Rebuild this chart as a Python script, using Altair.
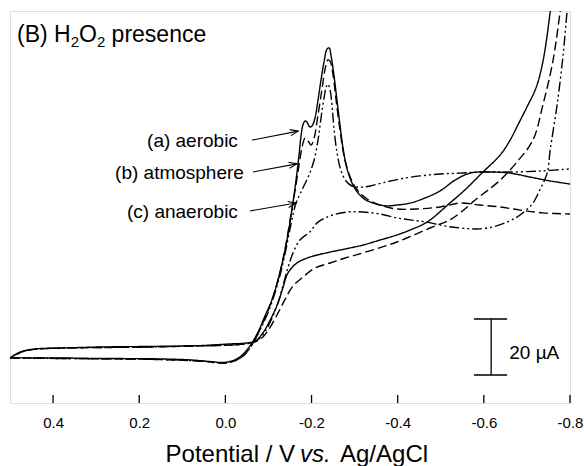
import altair as alt
import pandas as pd

FONT = "Liberation Sans"

# ---- curve (a) aerobic : solid ----
E_a_fwd = [0.500, 0.454, 0.384, 0.291, 0.175, 0.082, 0.036, 0.001, -0.022, -0.039, -0.057,
           -0.076, -0.092, -0.108, -0.127, -0.143, -0.155, -0.164, -0.171, -0.175, -0.180,
           -0.185, -0.189, -0.196, -0.201, -0.208, -0.215, -0.222, -0.229, -0.236, -0.241,
           -0.245, -0.252, -0.259, -0.266, -0.273, -0.282, -0.294, -0.308, -0.326, -0.350,
           -0.373, -0.398, -0.429, -0.463, -0.498, -0.533, -0.568, -0.614, -0.661, -0.707,
           -0.754, -0.800]
I_a_fwd = [16.1, 16.1, 16.1, 15.9, 15.8, 15.4, 14.8, 14.5, 15.4, 17.1, 20.4,
           25.4, 31.1, 36.8, 46.8, 58.2, 69.6, 79.6, 88.6, 94.6, 99.3,
           100.7, 100.4, 98.6, 98.9, 101.8, 108.2, 115.4, 121.8, 126.4, 126.8,
           124.3, 117.1, 108.2, 99.3, 91.1, 83.9, 78.6, 75.0, 72.5, 71.1,
           70.4, 70.7, 71.4, 73.2, 75.7, 79.6, 82.1, 82.5, 82.1, 80.7,
           79.3, 78.2]
E_a_rev = [-0.760, -0.754, -0.737, -0.721, -0.700, -0.679, -0.661, -0.638, -0.598, -0.556,
           -0.521, -0.468, -0.429, -0.398, -0.359, -0.319, -0.278, -0.243, -0.196, -0.166,
           -0.145, -0.134, -0.122, -0.104, -0.085, -0.069, -0.046, -0.011, 0.059, 0.175,
           0.291, 0.384, 0.442, 0.477, 0.500]
I_a_rev = [147.5, 139.6, 121.8, 112.5, 105.7, 99.3, 93.9, 88.6, 82.5, 76.1,
           71.4, 64.6, 61.8, 60.0, 58.2, 56.4, 55.0, 53.9, 52.1, 50.0,
           46.4, 41.4, 35.7, 29.6, 24.6, 22.1, 21.4, 21.1, 20.5, 20.2,
           20.0, 19.6, 19.3, 18.2, 16.1]

# ---- curve (b) atmosphere : dashed ----
E_b_fwd = [0.500, 0.384, 0.175, 0.059, 0.001, -0.027, -0.046, -0.064, -0.085, -0.104,
           -0.122, -0.138, -0.152, -0.162, -0.171, -0.178, -0.185, -0.192, -0.199, -0.206,
           -0.215, -0.224, -0.231, -0.238, -0.243, -0.250, -0.257, -0.266, -0.275, -0.287,
           -0.303, -0.326, -0.359, -0.398, -0.445, -0.498, -0.545, -0.591, -0.638, -0.684,
           -0.737, -0.800]
I_b_fwd = [16.1, 15.9, 15.6, 15.0, 14.3, 15.4, 17.5, 21.4, 27.9, 35.0,
           43.9, 54.6, 67.1, 76.1, 85.0, 91.4, 94.6, 93.6, 92.1, 94.6,
           102.9, 111.8, 118.9, 122.5, 122.1, 117.1, 108.2, 97.5, 88.6, 81.8,
           76.8, 73.2, 70.7, 69.3, 69.3, 70.0, 71.4, 70.7, 70.0, 68.9,
           67.9, 67.5]
E_b_rev = [-0.784, -0.777, -0.760, -0.737, -0.714, -0.677, -0.638, -0.580, -0.545, -0.521,
           -0.475, -0.398, -0.319, -0.278, -0.243, -0.208, -0.180, -0.155, -0.138, -0.122,
           -0.104, -0.087, -0.069, -0.046, -0.011, 0.059, 0.175, 0.291, 0.407, 0.465, 0.500]
I_b_rev = [147.5, 139.6, 121.8, 106.4, 93.9, 86.1, 79.6, 72.5, 67.9, 65.4,
           62.5, 57.5, 53.6, 51.8, 50.0, 48.2, 45.0, 41.4, 36.8, 32.1,
           27.1, 23.6, 21.8, 21.1, 20.7, 20.4, 20.0, 19.8, 19.5, 18.6, 16.1]

# ---- curve (c) anaerobic : dash-dot-dot ----
E_c_fwd = [0.500, 0.384, 0.175, 0.059, 0.001, -0.027, -0.046, -0.064, -0.085, -0.104,
           -0.122, -0.138, -0.152, -0.164, -0.180, -0.194, -0.206, -0.215, -0.222, -0.229,
           -0.234, -0.238, -0.243, -0.248, -0.252, -0.259, -0.268, -0.280, -0.294, -0.312,
           -0.336, -0.364, -0.405, -0.452, -0.498, -0.545, -0.591, -0.668, -0.737, -0.800]
I_c_fwd = [16.1, 15.9, 15.6, 15.0, 14.3, 15.4, 17.5, 21.4, 27.5, 34.3,
           42.9, 52.9, 63.6, 71.4, 76.8, 81.4, 86.8, 93.9, 101.8, 108.9,
           112.9, 113.9, 111.8, 105.4, 98.2, 89.6, 83.2, 79.3, 77.5, 77.1,
           77.5, 78.6, 80.0, 81.1, 81.8, 82.1, 82.5, 82.5, 82.9, 83.6]
E_c_rev = [-0.798, -0.793, -0.784, -0.770, -0.754, -0.747, -0.730, -0.714, -0.696, -0.677,
           -0.649, -0.621, -0.591, -0.568, -0.545, -0.510, -0.468, -0.429, -0.398, -0.359,
           -0.319, -0.282, -0.243, -0.215, -0.196, -0.173, -0.157, -0.145, -0.134, -0.122,
           -0.106, -0.090, -0.071, -0.046, -0.011, 0.059, 0.175, 0.291, 0.407, 0.465, 0.500]
I_c_rev = [147.5, 139.6, 124.3, 106.4, 90.4, 82.1, 76.1, 71.4, 68.6, 66.4,
           64.3, 62.9, 62.2, 62.2, 62.5, 63.2, 64.6, 65.4, 66.1, 67.5,
           68.2, 68.2, 66.8, 64.6, 61.1, 58.2, 53.6, 48.2, 42.1, 35.7,
           29.6, 25.0, 22.1, 21.1, 20.7, 20.4, 20.0, 19.8, 19.5, 18.6, 16.1]

tick_vals = [0.4, 0.2, 0.0, -0.2, -0.4, -0.6, -0.8]
tick_len = 2.9  # µA (inward tick marks)

# annotations
lab_text = ["(a) aerobic", "(b) atmosphere", "(c) anaerobic"]
lab_E = [-0.029, -0.043, -0.029]
lab_I = [93.6, 82.1, 68.2]
arr_E_tail = [-0.062, -0.064, -0.057]
arr_I_tail = [93.9, 82.5, 68.6]
arr_E_tip = [-0.169, -0.166, -0.164]
arr_I_tip = [97.1, 85.4, 71.4]
arr_angle = [349, 350, 350]

# scale bar (20 µA)
bar_E = -0.617
bar_I = [10, 30]
bar_cap_E = [-0.577, -0.654]

rows = []
for curve, seg, E, I in [("a", "a1", E_a_fwd, I_a_fwd), ("a", "a2", E_a_rev, I_a_rev),
                         ("b", "b1", E_b_fwd, I_b_fwd), ("b", "b2", E_b_rev, I_b_rev),
                         ("c", "c1", E_c_fwd, I_c_fwd), ("c", "c2", E_c_rev, I_c_rev)]:
    assert len(E) == len(I), seg
    for k, (e, i) in enumerate(zip(E, I)):
        rows.append({"E": e, "I": i, "curve": curve, "seg": seg, "idx": k})
df = pd.DataFrame(rows)

X = alt.X("E:Q",
          scale=alt.Scale(domain=[-0.8, 0.5], reverse=True, nice=False, zero=False),
          axis=alt.Axis(values=tick_vals, title=None, ticks=False, tickSize=0, domain=False,
                        grid=False, labelFontSize=15, labelFont=FONT, labelColor="black",
                        labelPadding=12, labelFlush=False,
                        labelExpr="replace(format(datum.value, '.1f'), '\u2212', '-')"))
Y = alt.Y("I:Q", scale=alt.Scale(domain=[0, 140], nice=False, zero=False), axis=None)

lines = alt.Chart(df).mark_line(clip=True, strokeWidth=1.4, color="black",
                                interpolate="catmull-rom").encode(
    x=X, y=Y,
    strokeDash=alt.StrokeDash("curve:N", legend=None,
                              scale=alt.Scale(domain=["a", "b", "c"],
                                              range=[[1, 0], [9, 4], [10, 3, 2, 3, 2, 3]])),
    detail="seg:N",
    order="idx:Q",
)

ticks_df = pd.DataFrame({"E": tick_vals, "I": [0] * len(tick_vals), "I2": [tick_len] * len(tick_vals)})
ticks = alt.Chart(ticks_df).mark_rule(color="black", strokeWidth=1.3).encode(
    x=X, y=Y, y2=alt.Y2("I2:Q"))

arr_df = pd.DataFrame({"E": arr_E_tail, "I": arr_I_tail, "E2": arr_E_tip, "I2": arr_I_tip})
shafts = alt.Chart(arr_df).mark_rule(color="black", strokeWidth=1.1).encode(
    x=X, y=Y, x2=alt.X2("E2:Q"), y2=alt.Y2("I2:Q"))
head_df = pd.DataFrame({"E": arr_E_tip, "I": arr_I_tip, "ang": arr_angle})
heads = alt.Chart(head_df).mark_point(shape="M -1 -0.38 L 0 0 L -1 0.38", filled=False,
                                      color="black", strokeWidth=1.1, size=256, opacity=1).encode(
    x=X, y=Y, angle=alt.Angle("ang:Q", scale=None))

lab_df = pd.DataFrame({"E": lab_E, "I": lab_I, "t": lab_text})
labels = alt.Chart(lab_df).mark_text(align="right", baseline="middle", font=FONT,
                                     fontSize=19, color="black").encode(x=X, y=Y, text="t:N")

bar_df = pd.DataFrame({"E": [bar_E], "I": [bar_I[0]], "I2": [bar_I[1]]})
bar = alt.Chart(bar_df).mark_rule(color="black", strokeWidth=1.3).encode(x=X, y=Y, y2=alt.Y2("I2:Q"))
caps_df = pd.DataFrame({"E": [bar_cap_E[0]] * 2, "E2": [bar_cap_E[1]] * 2, "I": bar_I})
caps = alt.Chart(caps_df).mark_rule(color="black", strokeWidth=1.3).encode(x=X, x2=alt.X2("E2:Q"), y=Y)
bar_lab_df = pd.DataFrame({"E": [-0.659], "I": [15.7], "t": ["20 µA"]})
bar_lab = alt.Chart(bar_lab_df).mark_text(align="left", baseline="alphabetic", font=FONT,
                                          fontSize=19, color="black").encode(x=X, y=Y, text="t:N")

# title pieces: (B) H2O2 presence
title_df = pd.DataFrame({"t": ["(B) H", "O", "presence"], "x": [7, 69, 101.6]})
title_main = alt.Chart(title_df).mark_text(align="left", baseline="alphabetic", font=FONT,
                                           fontSize=23, color="black").encode(
    x=alt.X("x:Q", scale=None), y=alt.value(31), text="t:N")
sub_df = pd.DataFrame({"t": ["2", "2"], "x": [60.7, 86.9]})
title_sub = alt.Chart(sub_df).mark_text(align="left", baseline="alphabetic", font=FONT,
                                        fontSize=15, color="black").encode(
    x=alt.X("x:Q", scale=None), y=alt.value(36), text="t:N")

# x-axis title pieces
xt1 = alt.Chart(pd.DataFrame({"t": ["Potential / V"]})).mark_text(
    align="right", baseline="alphabetic", font=FONT, fontSize=24, color="black").encode(
    x=alt.value(285), y=alt.value(451), text="t:N")
xt2 = alt.Chart(pd.DataFrame({"t": ["vs."]})).mark_text(
    align="left", baseline="alphabetic", font=FONT, fontSize=24, fontStyle="italic",
    color="black").encode(x=alt.value(290), y=alt.value(451), text="t:N")
xt3 = alt.Chart(pd.DataFrame({"t": ["Ag/AgCl"]})).mark_text(
    align="left", baseline="alphabetic", font=FONT, fontSize=24, color="black").encode(
    x=alt.value(330), y=alt.value(451), text="t:N")

chart = alt.layer(lines, ticks, shafts, heads, labels, bar, caps, bar_lab,
                  title_main, title_sub, xt1, xt2, xt3).properties(
    width=560, height=392,
    padding={"left": 10, "top": 11, "right": 14, "bottom": 63},
    autosize=alt.AutoSizeParams(type="none"),
).configure_view(stroke="black", strokeWidth=1.3).configure(font=FONT)

chart.save("out.html", embed_options={"renderer": "svg", "actions": False})
